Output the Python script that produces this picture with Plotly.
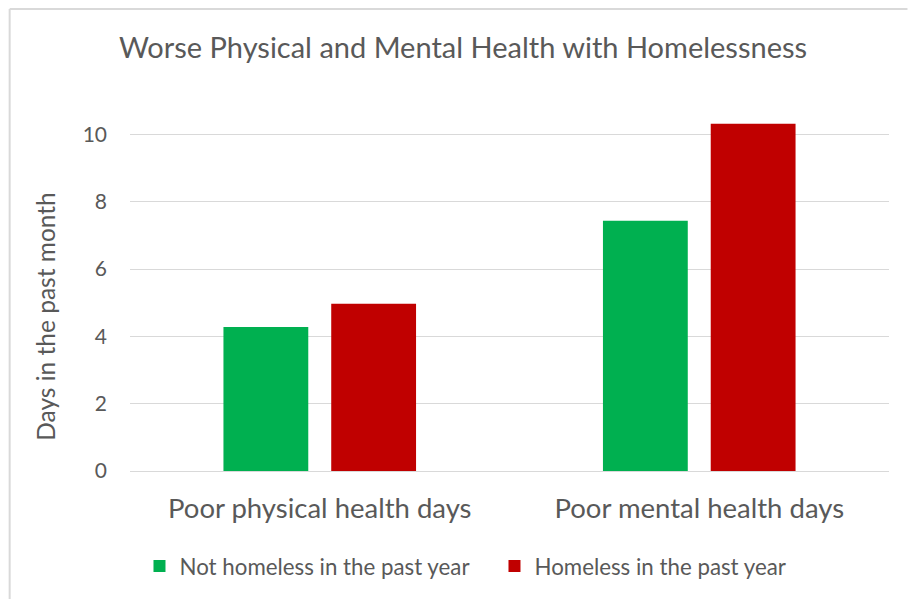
import plotly.graph_objects as go

categories = ["Poor physical health days", "Poor mental health days"]
not_homeless = [4.28, 7.44]
homeless = [4.97, 10.32]
series_names = ["Not homeless in the past year", "Homeless in the past year"]
y_ticks = [0, 2, 4, 6, 8, 10]

GREEN = "#00B050"
RED = "#C00000"
TEXT = "#595959"
FONT = "Lato"

fig = go.Figure()
fig.add_trace(go.Bar(x=categories, y=not_homeless, name=series_names[0],
                     marker=dict(color=GREEN, line=dict(width=0))))
fig.add_trace(go.Bar(x=categories, y=homeless, name=series_names[1],
                     marker=dict(color=RED, line=dict(width=0))))

W, H = 908, 599
ml, mr, mt, mb = 129.5, 18.5, 111, 128.3
PW = W - ml - mr

fig.update_layout(
    width=W, height=H,
    margin=dict(l=ml, r=mr, t=mt, b=mb, pad=0),
    paper_bgcolor="white", plot_bgcolor="white",
    barmode="group", bargap=0.432, bargroupgap=0.213,
    font=dict(family=FONT, color=TEXT),
    title=dict(text="Worse Physical and Mental Health with Homelessness",
               x=463 / W, xanchor="center", y=1 - 48 / H, yanchor="middle",
               font=dict(size=29, color=TEXT, family=FONT)),
    xaxis=dict(showgrid=False, showline=False, zeroline=False,
               tickfont=dict(size=27.5, color=TEXT, family=FONT),
               ticks="", ticklabelstandoff=18),
    yaxis=dict(range=[0, 10.7], tickvals=y_ticks, showgrid=True,
               gridcolor="#D9D9D9", gridwidth=1.3, zeroline=True,
               zerolinecolor="#D9D9D9", zerolinewidth=1.3,
               showline=False, ticks="",
               tickfont=dict(size=21, color=TEXT, family=FONT),
               ticklabelstandoff=22),
    legend=dict(orientation="h", x=(139 - ml) / PW, xanchor="left",
                y=1 - 566 / H, yref="container", yanchor="middle",
                font=dict(size=22.3, color=TEXT, family=FONT),
                itemwidth=30, traceorder="normal", entrywidth=310),
    showlegend=True,
)

fig.add_annotation(text="Days in the past month", textangle=-90,
                   xref="paper", yref="paper",
                   x=(45 - ml) / PW, y=(H - mb - 316) / (H - mb - mt),
                   xanchor="center", yanchor="middle", showarrow=False,
                   font=dict(size=24.5, color=TEXT, family=FONT))

# chart-area border (left and top edges visible)
fig.add_shape(type="line", xref="paper", yref="paper",
              x0=(9 - ml) / PW, x1=(9 - ml) / PW,
              y0=(H - mb - 9) / (H - mb - mt), y1=(H - mb - H) / (H - mb - mt),
              line=dict(color="#D9D9D9", width=2))
fig.add_shape(type="line", xref="paper", yref="paper",
              x0=(9 - ml) / PW, x1=(W - ml) / PW,
              y0=(H - mb - 9) / (H - mb - mt), y1=(H - mb - 9) / (H - mb - mt),
              line=dict(color="#D9D9D9", width=2))

fig.write_html("out.html")
